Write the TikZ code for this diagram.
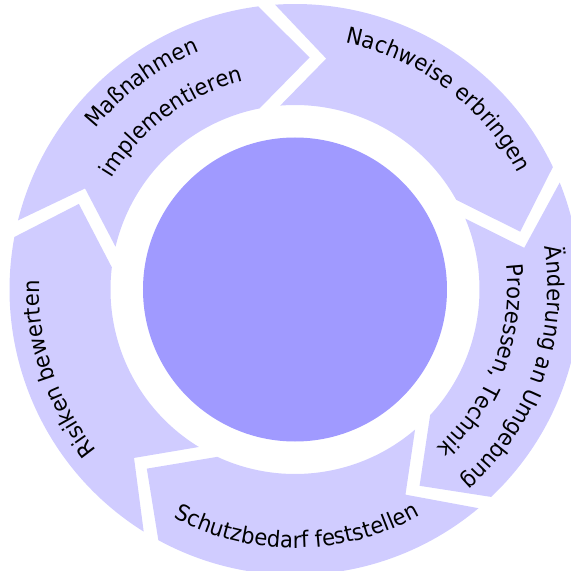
\documentclass[tikz,border=0pt]{standalone}
\usepackage{fontspec}
\setmainfont{DejaVu Sans}[FakeStretch=0.94]
\usepackage{xcolor}
\usetikzlibrary{decorations.text}
\definecolor{ringfill}{HTML}{D0CCFF}
\definecolor{corefill}{HTML}{A09AFF}
\newcommand{\cyclefont}{\fontsize{22.5pt}{27pt}\selectfont}

\begin{document}
\begin{tikzpicture}[
    x=1pt, y=1pt,
    seg/.style={fill=ringfill},
    core/.style={circle, fill=corefill, minimum size=304pt, inner sep=0pt},
    ringtext/.style={decorate, decoration={text along path, text align=center, text={|\cyclefont|#1}}}
  ]
  \useasboundingbox (-295,-281.5) rectangle (276,289.5);
  % five arrow segments, one head tip every 72 degrees
  \foreach \t in {86.4, 14.4, -57.6, -129.6, -201.6} {
    \fill[seg] (\t+79.6:285.5pt) arc[start angle=\t+79.6, end angle=\t+11, radius=285.5pt]
      -- (\t:232.5pt) -- (\t+14.7:184.5pt)
      arc[start angle=\t+14.7, end angle=\t+80.2, radius=184.5pt]
      -- (\t+67.9:233pt) -- cycle;
  }
  \node[core] (core) at (0,0) {};

  % labels along the ring
  \path[ringtext={Maßnahmen}] (186.5:256pt) arc[start angle=186.5, end angle=66.5, radius=256pt];
  \path[ringtext={implementieren}] (186.3:214.5pt) arc[start angle=186.3, end angle=66.3, radius=214.5pt];
  \path[ringtext={Nachweise erbringen}] (113:251.5pt) arc[start angle=113, end angle=-7, radius=251.5pt];
  \path[ringtext={Änderung an Umgebung}] (40.3:252.5pt) arc[start angle=40.3, end angle=-79.7, radius=252.5pt];
  \path[ringtext={Prozessen, Technik}] (39.3:212.5pt) arc[start angle=39.3, end angle=-80.7, radius=212.5pt];
  \path[ringtext={Schutzbedarf feststellen}] (-149.5:258.5pt) arc[start angle=-149.5, end angle=-29.5, radius=258.5pt];
  \path[ringtext={Risiken bewerten}] (258.5:255.5pt) arc[start angle=258.5, end angle=138.5, radius=255.5pt];
\end{tikzpicture}
\end{document}
